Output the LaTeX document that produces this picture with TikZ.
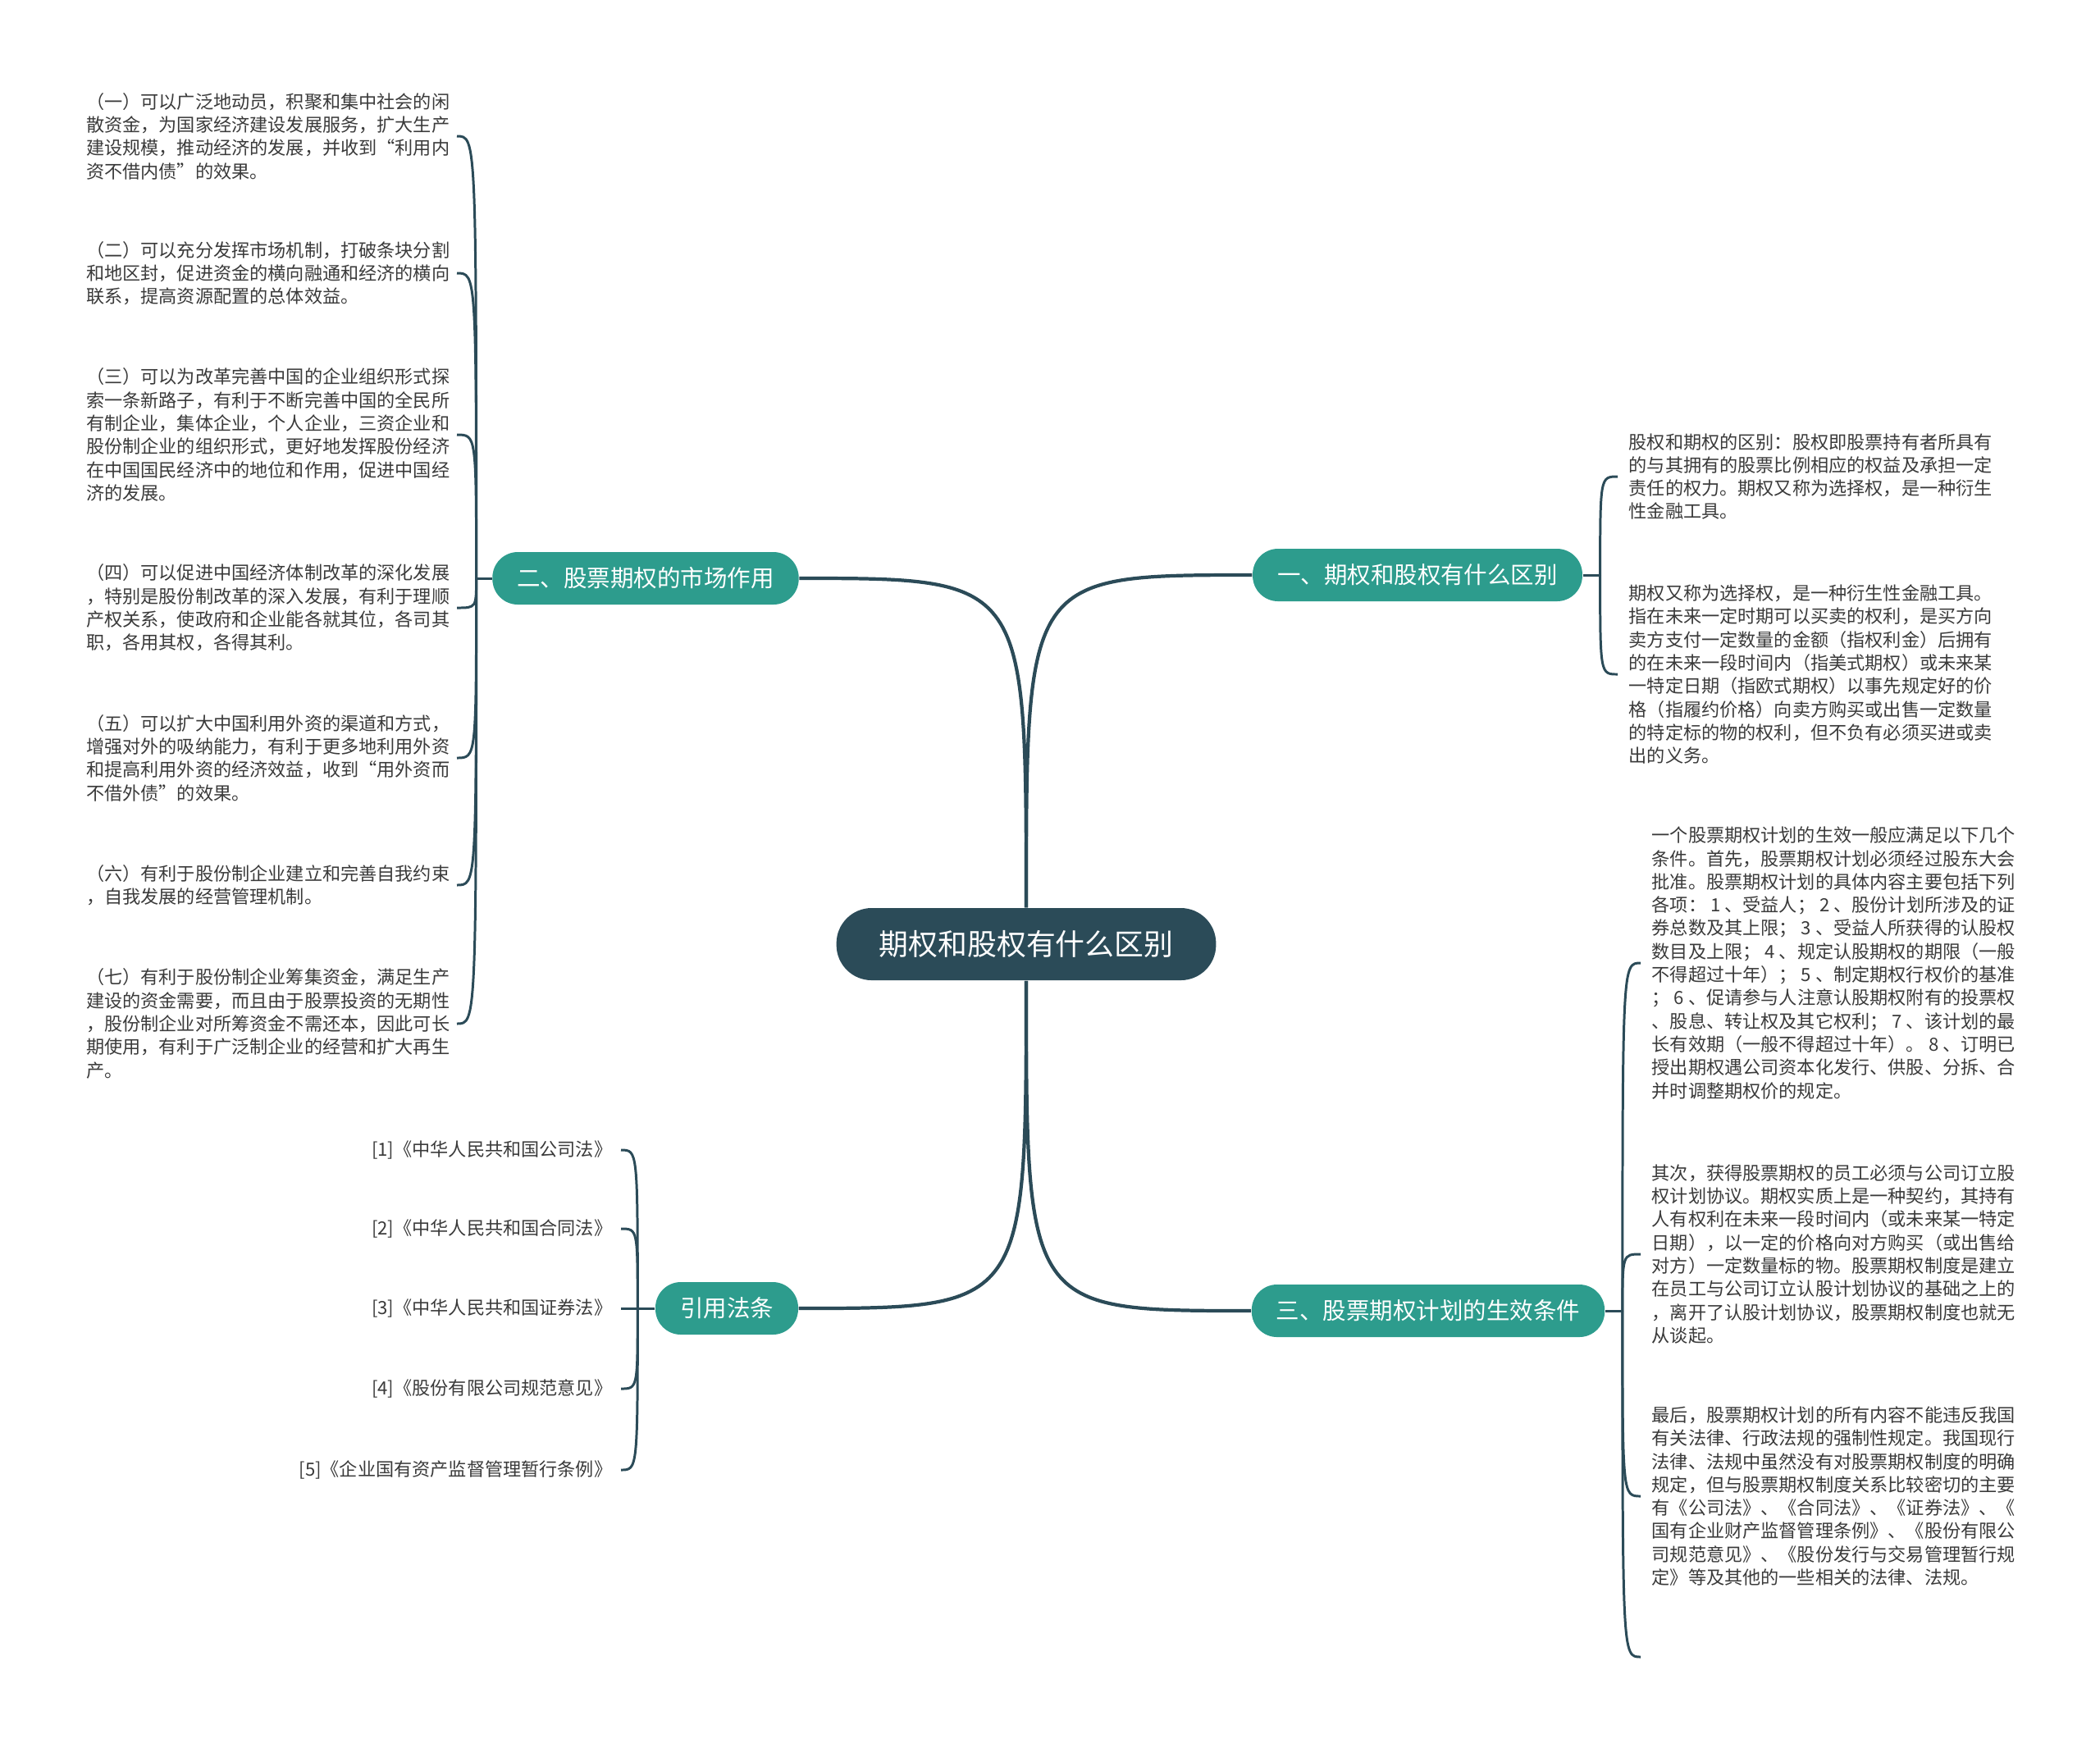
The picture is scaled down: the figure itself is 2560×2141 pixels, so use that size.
\documentclass[tikz,border=0pt]{standalone}
\usepackage{fontspec}
\setmainfont{Noto Sans CJK SC}
\usepackage{tikz}
\definecolor{MapSlate}{HTML}{2B4B58}
\definecolor{MapTeal}{HTML}{2D9C8D}
\definecolor{MapInk}{HTML}{3A3A3A}

\begin{document}
\begin{tikzpicture}[x=0.01cm,y=-0.01cm]
  \tikzstyle{qroot}=[fill=MapSlate,text=white,rounded corners=0.43cm,
    minimum height=0.88cm,inner xsep=0.52cm,
    font=\fontsize{10.2}{12}\selectfont]
  \tikzstyle{qtopic}=[fill=MapTeal,text=white,rounded corners=0.31cm,
    minimum height=0.64cm,inner xsep=0.3cm,
    font=\fontsize{8.1}{10}\selectfont]
  \tikzstyle{qnote}=[text=MapInk,align=left,inner xsep=0.13cm,inner ysep=0pt,
    font=\fontsize{6.3}{8.05}\selectfont]
  \tikzstyle{qlink}=[draw=MapSlate,line width=1.2pt]
  \tikzstyle{qtwig}=[draw=MapSlate,line width=0.85pt]
  \useasboundingbox (0,0) rectangle (2560,2141);
  \node[qroot] (root) at (1251,1151) {期权和股权有什么区别};
  \node[qtopic] (b1) at (1728,701) {一、期权和股权有什么区别};
  \node[qtopic] (b2) at (787,705) {二、股票期权的市场作用};
  \node[qtopic] (b3) at (1741,1598) {三、股票期权计划的生效条件};
  \node[qtopic] (b4) at (886,1595) {引用法条};
  \coordinate (j1) at ([xshift=0.21cm]b1.east);
  \coordinate (j2) at ([xshift=-0.19cm]b2.west);
  \coordinate (j3) at ([xshift=0.21cm]b3.east);
  \coordinate (j4) at ([xshift=-0.21cm]b4.west);
  \node[qnote,anchor=west] (n1a) at (1972,581) {股权和期权的区别：股权即股票持有者所具有\\的与其拥有的股票比例相应的权益及承担一定\\责任的权力。期权又称为选择权，是一种衍生\\性金融工具。};
  \node[qnote,anchor=west] (n1b) at (1972,822) {期权又称为选择权，是一种衍生性金融工具。\\指在未来一定时期可以买卖的权利，是买方向\\卖方支付一定数量的金额（指权利金）后拥有\\的在未来一段时间内（指美式期权）或未来某\\一特定日期（指欧式期权）以事先规定好的价\\格（指履约价格）向卖方购买或出售一定数量\\的特定标的物的权利，但不负有必须买进或卖\\出的义务。};
  \node[qnote,anchor=east,inner xsep=0.08cm] (n2a) at (557,166) {（一）可以广泛地动员，积聚和集中社会的闲\\散资金，为国家经济建设发展服务，扩大生产\\建设规模，推动经济的发展，并收到“利用内\\资不借内债”的效果。};
  \node[qnote,anchor=east,inner xsep=0.08cm] (n2b) at (557,333) {（二）可以充分发挥市场机制，打破条块分割\\和地区封，促进资金的横向融通和经济的横向\\联系，提高资源配置的总体效益。};
  \node[qnote,anchor=east,inner xsep=0.08cm] (n2c) at (557,530) {（三）可以为改革完善中国的企业组织形式探\\索一条新路子，有利于不断完善中国的全民所\\有制企业，集体企业，个人企业，三资企业和\\股份制企业的组织形式，更好地发挥股份经济\\在中国国民经济中的地位和作用，促进中国经\\济的发展。};
  \node[qnote,anchor=east,inner xsep=0.08cm] (n2d) at (557,741) {（四）可以促进中国经济体制改革的深化发展\\，特别是股份制改革的深入发展，有利于理顺\\产权关系，使政府和企业能各就其位，各司其\\职，各用其权，各得其利。};
  \node[qnote,anchor=east,inner xsep=0.08cm] (n2e) at (557,924) {（五）可以扩大中国利用外资的渠道和方式，\\增强对外的吸纳能力，有利于更多地利用外资\\和提高利用外资的经济效益，收到“用外资而\\不借外债”的效果。};
  \node[qnote,anchor=east,inner xsep=0.08cm] (n2f) at (557,1079) {（六）有利于股份制企业建立和完善自我约束\\，自我发展的经营管理机制。};
  \node[qnote,anchor=east,inner xsep=0.08cm] (n2g) at (557,1248) {（七）有利于股份制企业筹集资金，满足生产\\建设的资金需要，而且由于股票投资的无期性\\，股份制企业对所筹资金不需还本，因此可长\\期使用，有利于广泛制企业的经营和扩大再生\\产。};
  \node[qnote,anchor=west] (n3a) at (2000,1174) {一个股票期权计划的生效一般应满足以下几个\\条件。首先，股票期权计划必须经过股东大会\\批准。股票期权计划的具体内容主要包括下列\\各项： 1 、受益人； 2 、股份计划所涉及的证\\券总数及其上限； 3 、受益人所获得的认股权\\数目及上限； 4 、规定认股期权的期限（一般\\不得超过十年）； 5 、制定期权行权价的基准\\； 6 、促请参与人注意认股期权附有的投票权\\、股息、转让权及其它权利； 7 、该计划的最\\长有效期（一般不得超过十年）。 8 、订明已\\授出期权遇公司资本化发行、供股、分拆、合\\并时调整期权价的规定。};
  \node[qnote,anchor=west] (n3b) at (2000,1529) {其次，获得股票期权的员工必须与公司订立股\\权计划协议。期权实质上是一种契约，其持有\\人有权利在未来一段时间内（或未来某一特定\\日期），以一定的价格向对方购买（或出售给\\对方）一定数量标的物。股票期权制度是建立\\在员工与公司订立认股计划协议的基础之上的\\，离开了认股计划协议，股票期权制度也就无\\从谈起。};
  \node[qnote,anchor=west] (n3c) at (2000,1824) {最后，股票期权计划的所有内容不能违反我国\\有关法律、行政法规的强制性规定。我国现行\\法律、法规中虽然没有对股票期权制度的明确\\规定，但与股票期权制度关系比较密切的主要\\有《公司法》、《合同法》、《证券法》、《\\国有企业财产监督管理条例》、《股份有限公\\司规范意见》、《股份发行与交易管理暂行规\\定》等及其他的一些相关的法律、法规。};
  \coordinate (n3d) at (2000,2020);
  \node[qnote,anchor=east,inner xsep=0.1cm] (n4a) at (757,1402) {[1]《中华人民共和国公司法》};
  \node[qnote,anchor=east,inner xsep=0.1cm] (n4b) at (757,1498) {[2]《中华人民共和国合同法》};
  \node[qnote,anchor=east,inner xsep=0.1cm] (n4c) at (757,1595) {[3]《中华人民共和国证券法》};
  \node[qnote,anchor=east,inner xsep=0.1cm] (n4d) at (757,1693) {[4]《股份有限公司规范意见》};
  \node[qnote,anchor=east,inner xsep=0.1cm] (n4e) at (757,1792) {[5]《企业国有资产监督管理暂行条例》};
  \draw[qlink] (root.north) .. controls (root.north |- b1.west) .. (b1.west);
  \draw[qlink] (root.north) .. controls (root.north |- b2.east) .. (b2.east);
  \draw[qlink] (root.south) .. controls (root.south |- b3.west) .. (b3.west);
  \draw[qlink] (root.south) .. controls (root.south |- b4.east) .. (b4.east);
  \draw[qtwig] (b1.east) -- (j1);
  \draw[qtwig] (b2.west) -- (j2);
  \draw[qtwig] (b3.east) -- (j3);
  \draw[qtwig] (b4.west) -- (j4);
  \draw[qtwig] (j1) .. controls (j1 |- n1a.west) .. (n1a.west);
  \draw[qtwig] (j1) .. controls (j1 |- n1b.west) .. (n1b.west);
  \draw[qtwig] (j2) .. controls (j2 |- n2a.east) .. (n2a.east);
  \draw[qtwig] (j2) .. controls (j2 |- n2b.east) .. (n2b.east);
  \draw[qtwig] (j2) .. controls (j2 |- n2c.east) .. (n2c.east);
  \draw[qtwig] (j2) .. controls (j2 |- n2d.east) .. (n2d.east);
  \draw[qtwig] (j2) .. controls (j2 |- n2e.east) .. (n2e.east);
  \draw[qtwig] (j2) .. controls (j2 |- n2f.east) .. (n2f.east);
  \draw[qtwig] (j2) .. controls (j2 |- n2g.east) .. (n2g.east);
  \draw[qtwig] (j3) .. controls (j3 |- n3a.west) .. (n3a.west);
  \draw[qtwig] (j3) .. controls (j3 |- n3b.west) .. (n3b.west);
  \draw[qtwig] (j3) .. controls (j3 |- n3c.west) .. (n3c.west);
  \draw[qtwig] (j3) .. controls (j3 |- n3d) .. (n3d);
  \draw[qtwig] (j4) .. controls (j4 |- n4a.east) .. (n4a.east);
  \draw[qtwig] (j4) .. controls (j4 |- n4b.east) .. (n4b.east);
  \draw[qtwig] (j4) -- (n4c.east);
  \draw[qtwig] (j4) .. controls (j4 |- n4d.east) .. (n4d.east);
  \draw[qtwig] (j4) .. controls (j4 |- n4e.east) .. (n4e.east);
\end{tikzpicture}
\end{document}
